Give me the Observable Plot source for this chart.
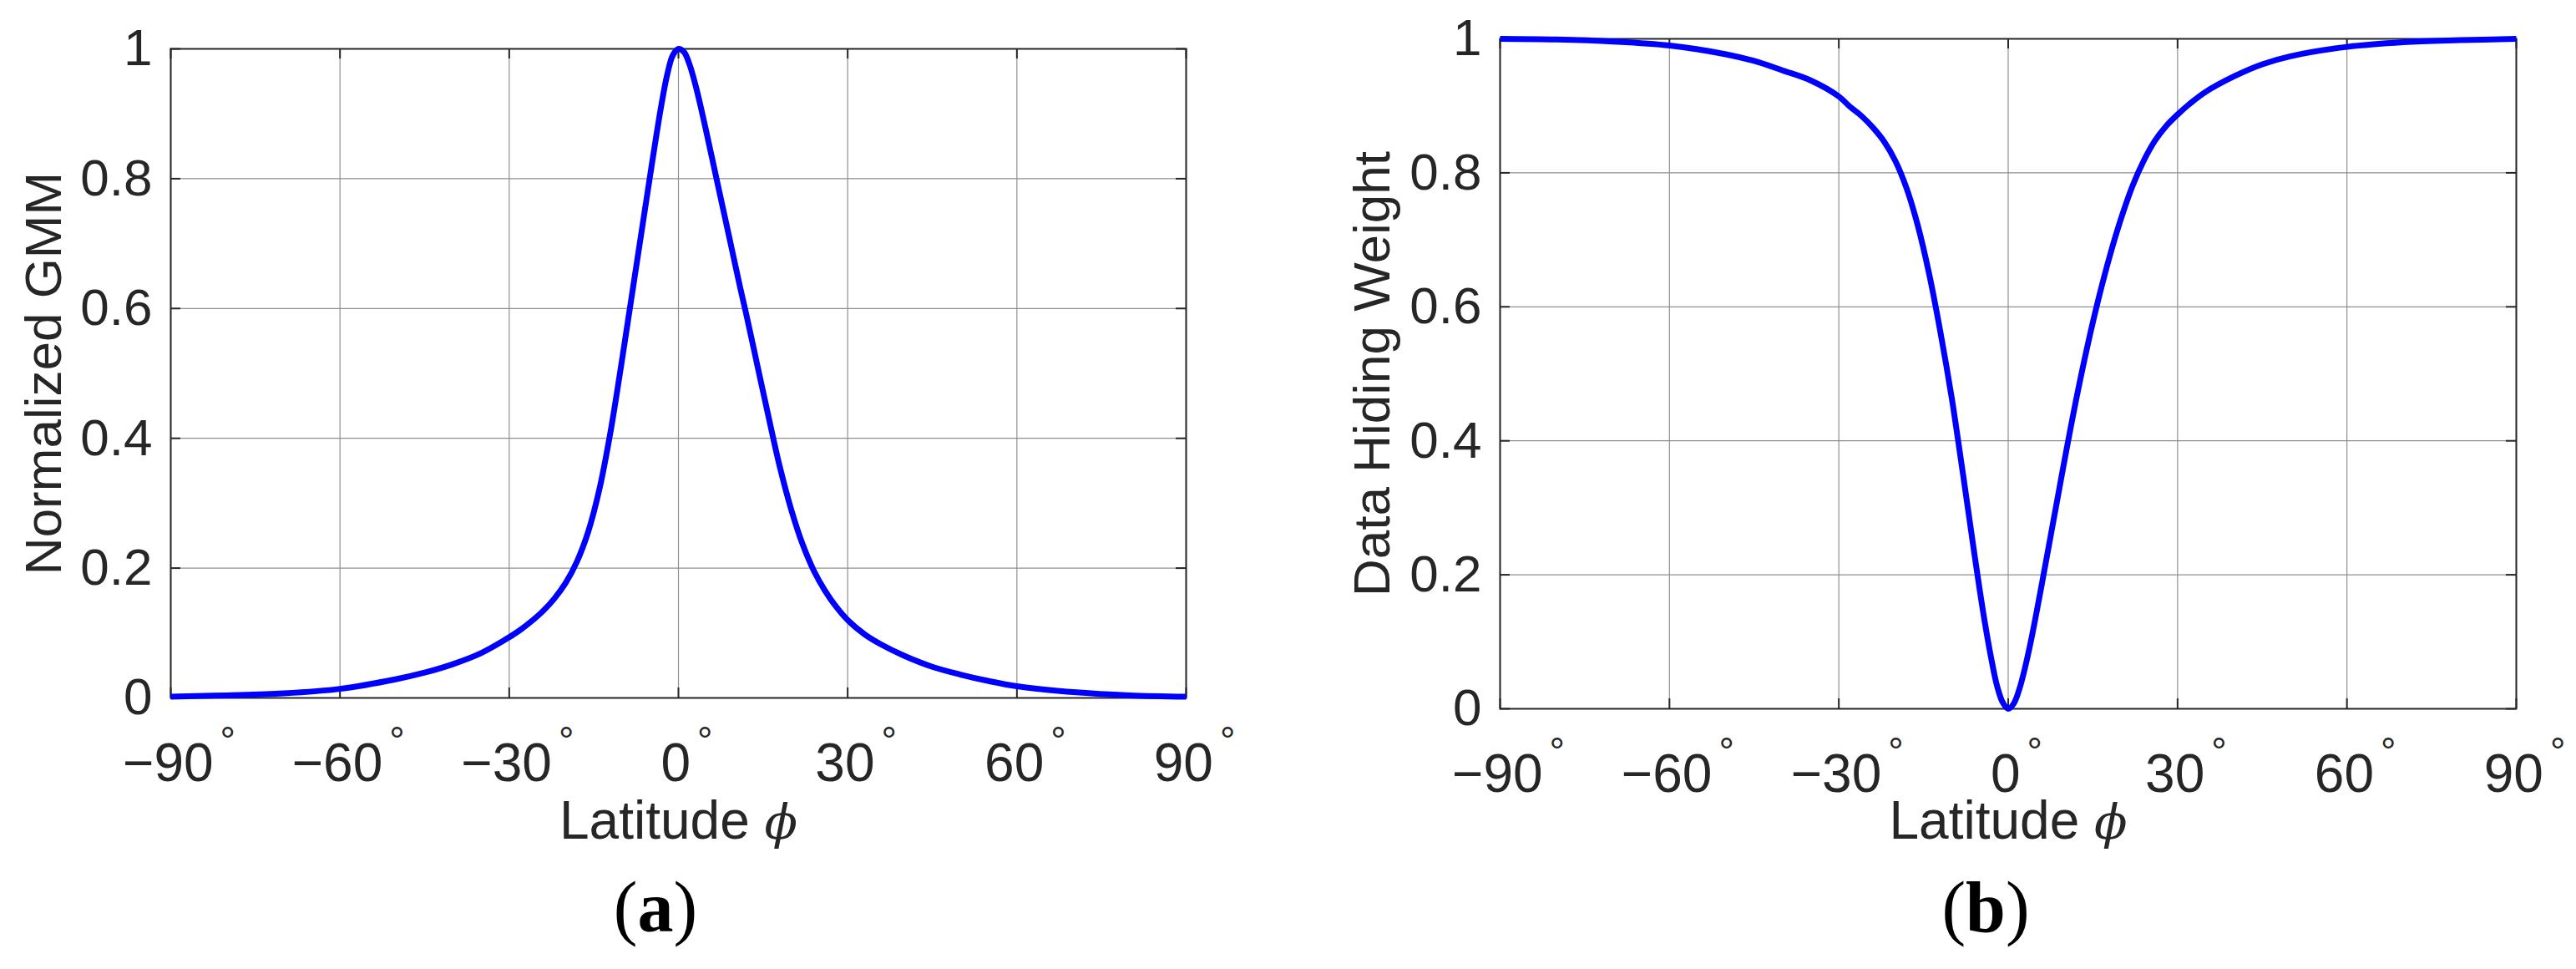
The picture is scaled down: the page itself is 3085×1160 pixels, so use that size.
<!DOCTYPE html>
<html>
<head>
<meta charset="utf-8">
<script src="https://cdn.jsdelivr.net/npm/d3@7"></script>
<script src="https://cdn.jsdelivr.net/npm/@observablehq/plot@0.6"></script>
<style>
html, body { margin: 0; padding: 0; background: #fff; }
#wrap { position: relative; width: 3085px; height: 1160px; overflow: hidden; background: #fff; }
.panel { position: absolute; top: 0; }
.cap { position: absolute; font-family: "Liberation Serif", "Times New Roman", serif; font-size: 86px; line-height: 1; color: #000; transform: translateX(-50%); white-space: nowrap; }
.cap b { font-weight: bold; }
</style>
</head>
<body>
<div id="wrap"></div>
<script>
// ---- data ----
const latitudeA = [-90,-80,-70,-60,-50,-45,-40,-35,-30,-28,-26,-24,-22,-20,-18,-16,-14,-12,-10,-9,-8,-7,-6,-5,-4,-3,-2,-1,0,1,2,3,4,5,6,7,8,9,10,11,12,14,16,18,20,22,24,26,28,30,33,36,40,45,50,55,60,70,80,90];
const gmmValues = [0.002,0.004,0.007,0.014,0.029,0.039,0.052,0.069,0.0935,0.105,0.1185,0.134,0.153,0.177,0.21,0.256,0.322,0.412,0.521,0.578,0.635,0.692,0.749,0.806,0.862,0.915,0.96,0.99,1.0,0.995,0.975,0.945,0.909,0.87,0.83,0.79,0.75,0.71,0.67,0.63,0.592,0.512,0.432,0.355,0.29,0.237,0.196,0.165,0.14,0.12,0.098,0.082,0.065,0.048,0.036,0.026,0.018,0.009,0.004,0.002];

const latitudeB = [-90,-80,-70,-60,-50,-45,-40,-35,-30,-28,-26,-24,-22,-20,-18,-16,-14,-12,-10,-9,-8,-7,-6,-5,-4,-3,-2,-1,0,1,2,3,4,5,6,7,8,9,10,12,14,16,18,20,22,24,26,28,30,32,35,40,45,50,60,70,80,90];
const weightValues = [1.0,0.999,0.996,0.99,0.977,0.967,0.953,0.938,0.914,0.8985,0.885,0.868,0.847,0.818,0.777,0.721,0.649,0.562,0.464,0.408,0.35,0.291,0.232,0.175,0.122,0.075,0.035,0.01,0.0,0.008,0.03,0.062,0.1,0.143,0.188,0.234,0.28,0.326,0.372,0.46,0.54,0.612,0.676,0.732,0.78,0.818,0.848,0.87,0.887,0.902,0.921,0.944,0.962,0.974,0.988,0.995,0.998,1.0];

const xTicks = [-90,-60,-30,0,30,60,90];
const yTicks = [0,0.2,0.4,0.6,0.8,1];
const xLabelText = "Latitude ";
const xLabelSymbol = "\u03D5";
const yLabels = ["Normalized GMM", "Data Hiding Weight"];
const captionLetters = ["a", "b"];

// ---- rendering ----
const SVGNS = "http://www.w3.org/2000/svg";
const INK = "#262626";
const fmtX = d => d < 0 ? "\u2212" + Math.abs(d) : String(d);
const fmtY = d => String(d);

function makePanel(cfg) {
  const {lat, vals, yLabel, width, height, mL, mR, mT, mB, xLabelOffset, yLabelOffset} = cfg;
  const pw = width - mL - mR, ph = height - mT - mB;
  const data = lat.map((x, i) => ({lat: x, v: vals[i]}));
  const svg = Plot.plot({
    width, height,
    marginLeft: mL, marginRight: mR, marginTop: mT, marginBottom: mB,
    style: {fontFamily: '"Liberation Sans", Arial, Helvetica, sans-serif', fontSize: "62px", color: INK, background: "white", overflow: "visible"},
    x: {domain: [-90, 90]},
    y: {domain: [0, 1]},
    marks: [
      Plot.gridX(xTicks, {stroke: "#8f8f8f", strokeOpacity: 1, strokeWidth: 1.2}),
      Plot.gridY(yTicks, {stroke: "#8f8f8f", strokeOpacity: 1, strokeWidth: 1.2}),
      Plot.ruleX(xTicks, {stroke: INK, strokeWidth: 2, insetBottom: ph - 12}),
      Plot.ruleX(xTicks, {stroke: INK, strokeWidth: 2, insetTop: ph - 12}),
      Plot.ruleY(yTicks, {stroke: INK, strokeWidth: 2, insetRight: pw - 12}),
      Plot.ruleY(yTicks, {stroke: INK, strokeWidth: 2, insetLeft: pw - 12}),
      Plot.frame({stroke: INK, strokeWidth: 2}),
      Plot.axisX(xTicks, {tickSize: 0, tickPadding: 54, tickFormat: fmtX, fontSize: 64, dx: 10,
        label: xLabelText + xLabelSymbol, labelAnchor: "center", labelOffset: xLabelOffset, labelArrow: false}),
      Plot.axisY(yTicks, {tickSize: 0, tickPadding: 22, tickFormat: fmtY, fontSize: 62,
        label: yLabel, labelAnchor: "center", labelOffset: yLabelOffset, labelArrow: false}),
      Plot.line(data, {x: "lat", y: "v", stroke: "#0000ff", strokeWidth: 7, curve: "catmull-rom", strokeLinecap: "butt", strokeLinejoin: "round"})
    ]
  });
  // degree superscripts on x tick labels
  svg.querySelectorAll('g[aria-label="x-axis tick label"] text').forEach(t => {
    const ts = document.createElementNS(SVGNS, "tspan");
    ts.textContent = "\u00B0";
    ts.setAttribute("font-size", "46");
    ts.setAttribute("dx", "8");
    ts.setAttribute("dy", "-32");
    t.appendChild(ts);
  });
  // x label with math italic phi
  svg.querySelectorAll('g[aria-label="x-axis label"] text').forEach(t => {
    t.textContent = xLabelText;
    const ts = document.createElementNS(SVGNS, "tspan");
    ts.textContent = xLabelSymbol;
    ts.setAttribute("font-family", '"DejaVu Serif", "Liberation Serif", serif');
    ts.setAttribute("font-style", "italic");
    ts.setAttribute("font-size", "58");
    t.appendChild(ts);
  });
  return svg;
}

const wrap = document.getElementById("wrap");
const panels = [
  {left: 0, lat: latitudeA, vals: gmmValues, yLabel: yLabels[0], width: 1540, height: 1160, mL: 204, mR: 120, mT: 58, mB: 325, xLabelOffset: 168, yLabelOffset: 176, cap: 785},
  {left: 1540, lat: latitudeB, vals: weightValues, yLabel: yLabels[1], width: 1545, height: 1160, mL: 256, mR: 72, mT: 46, mB: 312, xLabelOffset: 155, yLabelOffset: 177, cap: 2378}
];
panels.forEach((p, i) => {
  const div = document.createElement("div");
  div.className = "panel";
  div.style.left = p.left + "px";
  div.appendChild(makePanel(p));
  wrap.appendChild(div);
  const cap = document.createElement("div");
  cap.className = "cap";
  cap.style.left = p.cap + "px";
  cap.style.top = "1043px";
  cap.innerHTML = "(<b>" + captionLetters[i] + "</b>)";
  wrap.appendChild(cap);
});
</script>
</body>
</html>
